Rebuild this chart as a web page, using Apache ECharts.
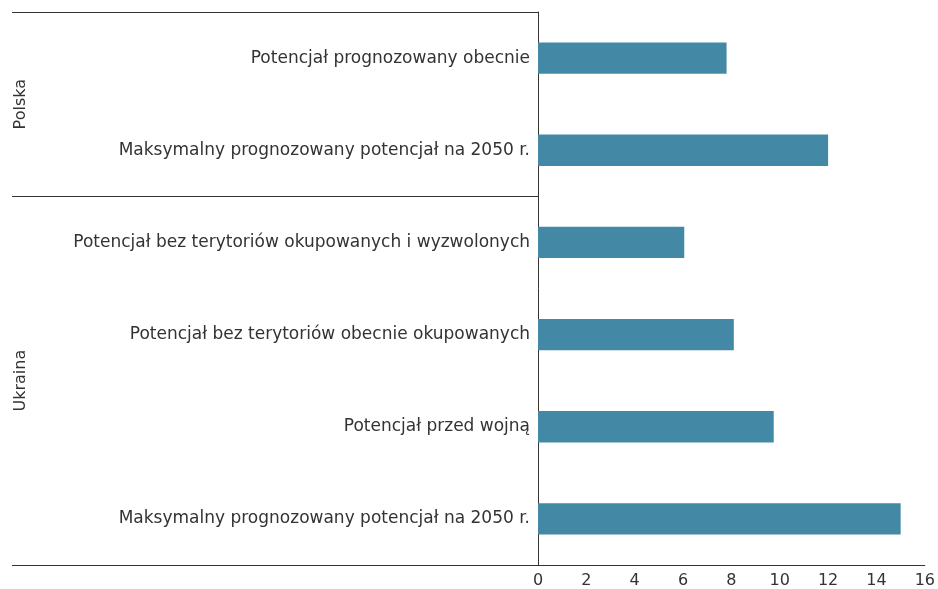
<!DOCTYPE html>
<html>
<head>
<meta charset="utf-8">
<script src="https://cdn.jsdelivr.net/npm/echarts@6/dist/echarts.min.js"></script>
<style>
  html, body { margin: 0; padding: 0; background: #fff; }
  #chart { width: 938px; height: 589px; }
</style>
</head>
<body>
<div id="chart"></div>
<script>
// data, top to bottom
const groups = ['Polska', 'Ukraina'];
const groupSizes = [2, 4];
const categories = [
  'Potencjał prognozowany obecnie',
  'Maksymalny prognozowany potencjał na 2050 r.',
  'Potencjał bez terytoriów okupowanych i wyzwolonych',
  'Potencjał bez terytoriów obecnie okupowanych',
  'Potencjał przed wojną',
  'Maksymalny prognozowany potencjał na 2050 r. '
];
const values = [7.8, 12, 6.05, 8.1, 9.75, 15];
const xTicks = [0, 16, 2]; // min, max, step

const font = '"DejaVu Sans", sans-serif';
const ink = '#333333';

const chart = echarts.init(document.getElementById('chart'));

const option = {
  backgroundColor: '#ffffff',
  animation: false,
  grid: { left: 538, right: 10, top: 12, bottom: 24 },
  xAxis: {
    type: 'value',
    min: xTicks[0],
    max: xTicks[1],
    interval: xTicks[2],
    axisLine: { show: true, lineStyle: { color: ink, width: 1 } },
    axisTick: { show: false },
    splitLine: { show: false },
    axisLabel: { color: ink, fontFamily: font, fontSize: 16, margin: 8 }
  },
  yAxis: {
    type: 'category',
    inverse: true,
    data: categories,
    axisLine: { show: true, lineStyle: { color: ink, width: 1 } },
    axisTick: { show: false },
    axisLabel: {
      color: ink, fontFamily: font, fontSize: 17, margin: 8,
      padding: [3, 0, 0, 0],
      formatter: v => v.trim()
    }
  },
  series: [{
    type: 'bar',
    data: values,
    barWidth: '34%',
    itemStyle: { color: '#4389a6' }
  }]
};

chart.setOption(option);

// group separators and labels, placed from the category axis
function drawGroups() {
  const left = 12;
  const axisX = chart.convertToPixel({ gridIndex: 0 }, [0, 0])[0];
  const p0 = chart.convertToPixel({ yAxisIndex: 0 }, 0);
  const p1 = chart.convertToPixel({ yAxisIndex: 0 }, 1);
  const band = p1 - p0;
  const top = p0 - band / 2;
  const els = [];
  let start = 0;
  const bounds = [top];
  groups.forEach((g, i) => {
    const y0 = top + start * band;
    const y1 = top + (start + groupSizes[i]) * band;
    bounds.push(y1);
    els.push({
      type: 'text',
      x: 21, y: (y0 + y1) / 2,
      rotation: Math.PI / 2,
      style: {
        text: g, fill: ink, font: '16px ' + font,
        align: 'center', verticalAlign: 'middle'
      }
    });
    start += groupSizes[i];
  });
  bounds.forEach(y => {
    els.push({
      type: 'line',
      shape: { x1: left, y1: Math.round(y) + 0.5, x2: axisX, y2: Math.round(y) + 0.5 },
      style: { stroke: ink, lineWidth: 1 }
    });
  });
  chart.setOption({ graphic: els });
}
drawGroups();
</script>
</body>
</html>
